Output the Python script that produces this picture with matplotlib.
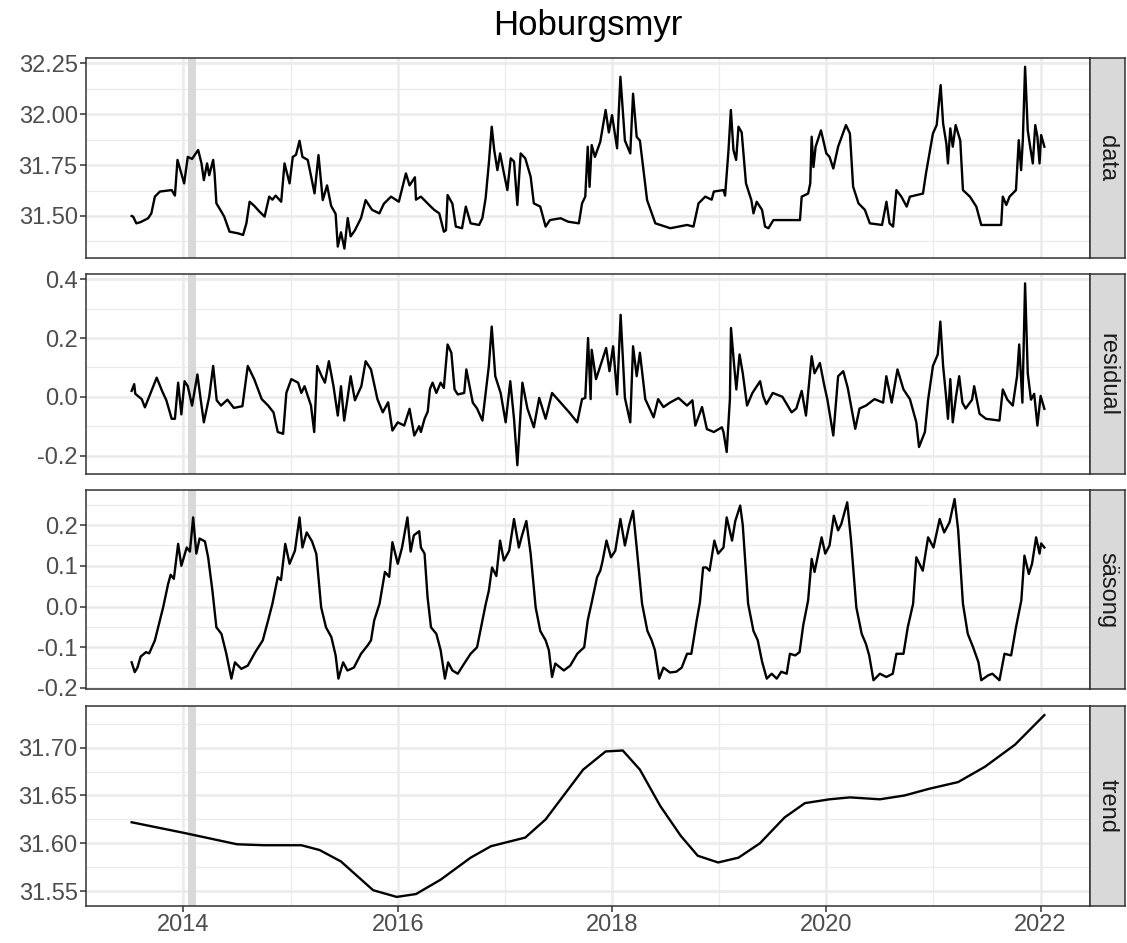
import matplotlib
matplotlib.use("Agg")
import matplotlib.pyplot as plt
import numpy as np

plt.rcParams['font.family'] = ['Liberation Sans', 'DejaVu Sans']

title = "Hoburgsmyr"
panel_labels = ["data", "residual", "säsong", "trend"]
band_start, band_end = 2014.044, 2014.12

data_x = [2013.516, 2013.53, 2013.56, 2013.60, 2013.67, 2013.70, 2013.733, 2013.78, 2013.89, 2013.92,
          2013.944, 2013.98, 2014.006, 2014.04, 2014.08, 2014.137, 2014.168, 2014.19, 2014.22, 2014.24,
          2014.277, 2014.29, 2014.307, 2014.354, 2014.38, 2014.43, 2014.509, 2014.556, 2014.587, 2014.617,
          2014.66, 2014.71, 2014.757, 2014.80, 2014.83, 2014.86, 2014.912, 2014.943, 2014.99, 2015.02,
          2015.05, 2015.083, 2015.11, 2015.16, 2015.223, 2015.26, 2015.30, 2015.34, 2015.378, 2015.42,
          2015.44, 2015.47, 2015.502, 2015.533, 2015.56, 2015.60, 2015.657, 2015.70, 2015.76, 2015.828,
          2015.87, 2015.937, 2016.01, 2016.076, 2016.11, 2016.16, 2016.17, 2016.216, 2016.293, 2016.34,
          2016.387, 2016.43, 2016.45, 2016.465, 2016.51, 2016.542, 2016.60, 2016.635, 2016.68, 2016.759,
          2016.79, 2016.82, 2016.85, 2016.877, 2016.90, 2016.93, 2016.955, 2016.985, 2017.023, 2017.054,
          2017.085, 2017.116, 2017.147, 2017.19, 2017.24, 2017.27, 2017.33, 2017.38, 2017.42, 2017.52,
          2017.59, 2017.69, 2017.72, 2017.75, 2017.773, 2017.79, 2017.81, 2017.84, 2017.89, 2017.94,
          2017.97, 2018.00, 2018.047, 2018.078, 2018.12, 2018.17, 2018.196, 2018.23, 2018.26, 2018.327,
          2018.404, 2018.544, 2018.70, 2018.76, 2018.807, 2018.87, 2018.93, 2018.95, 2019.04, 2019.055,
          2019.087, 2019.109, 2019.133, 2019.158, 2019.18, 2019.21, 2019.25, 2019.30, 2019.32, 2019.35,
          2019.40, 2019.428, 2019.46, 2019.506, 2019.754, 2019.77, 2019.83, 2019.85, 2019.863, 2019.88,
          2019.90, 2019.95, 2020.00, 2020.03, 2020.065, 2020.11, 2020.183, 2020.22, 2020.25, 2020.30,
          2020.36, 2020.406, 2020.52, 2020.561, 2020.59, 2020.623, 2020.654, 2020.70, 2020.75, 2020.78,
          2020.902, 2020.93, 2020.995, 2021.03, 2021.067, 2021.09, 2021.12, 2021.135, 2021.157, 2021.18,
          2021.207, 2021.25, 2021.275, 2021.34, 2021.40, 2021.446, 2021.632, 2021.647, 2021.68, 2021.71,
          2021.77, 2021.796, 2021.818, 2021.834, 2021.855, 2021.88, 2021.90, 2021.927, 2021.95, 2021.97,
          2021.99, 2022.005, 2022.035]
data_y = [31.500, 31.497, 31.464, 31.470, 31.489, 31.513, 31.595, 31.620, 31.627, 31.600,
          31.775, 31.709, 31.660, 31.790, 31.780, 31.824, 31.758, 31.676, 31.758, 31.700,
          31.775, 31.710, 31.562, 31.521, 31.497, 31.423, 31.415, 31.407, 31.464, 31.570,
          31.550, 31.521, 31.497, 31.595, 31.580, 31.600, 31.570, 31.758, 31.660, 31.790,
          31.800, 31.869, 31.790, 31.775, 31.611, 31.799, 31.578, 31.650, 31.550, 31.510,
          31.350, 31.420, 31.340, 31.490, 31.400, 31.430, 31.490, 31.578, 31.530, 31.513,
          31.560, 31.595, 31.570, 31.709, 31.650, 31.690, 31.580, 31.595, 31.554, 31.530,
          31.513, 31.423, 31.430, 31.603, 31.560, 31.448, 31.440, 31.546, 31.464, 31.456,
          31.490, 31.587, 31.758, 31.938, 31.824, 31.725, 31.807, 31.725, 31.627, 31.783,
          31.767, 31.554, 31.807, 31.783, 31.693, 31.562, 31.546, 31.448, 31.480, 31.489,
          31.472, 31.464, 31.562, 31.595, 31.840, 31.643, 31.848, 31.790, 31.864, 32.020,
          31.910, 31.995, 31.832, 32.183, 31.870, 31.807, 32.100, 31.888, 31.870, 31.578,
          31.464, 31.440, 31.456, 31.448, 31.562, 31.595, 31.580, 31.620, 31.627, 31.600,
          31.824, 32.020, 31.824, 31.775, 31.938, 31.910, 31.660, 31.578, 31.513, 31.570,
          31.530, 31.448, 31.440, 31.480, 31.480, 31.595, 31.610, 31.660, 31.889, 31.740,
          31.840, 31.920, 31.807, 31.790, 31.733, 31.840, 31.946, 31.905, 31.644, 31.562,
          31.530, 31.464, 31.456, 31.570, 31.464, 31.448, 31.627, 31.595, 31.546, 31.595,
          31.610, 31.709, 31.905, 31.946, 32.142, 31.954, 31.856, 31.758, 31.930, 31.840,
          31.946, 31.870, 31.627, 31.595, 31.546, 31.456, 31.456, 31.595, 31.554, 31.595,
          31.627, 31.872, 31.725, 31.872, 32.232, 31.920, 31.848, 31.758, 31.946, 31.889,
          31.758, 31.897, 31.840]

resid_x = [2013.516, 2013.54, 2013.55, 2013.61, 2013.64, 2013.69, 2013.75, 2013.80, 2013.84, 2013.89,
           2013.92, 2013.95, 2013.98, 2014.01, 2014.04, 2014.08, 2014.13, 2014.16, 2014.19, 2014.24,
           2014.277, 2014.31, 2014.35, 2014.41, 2014.47, 2014.55, 2014.60, 2014.66, 2014.73, 2014.79,
           2014.84, 2014.88, 2014.93, 2014.96, 2015.006, 2015.07, 2015.10, 2015.13, 2015.19, 2015.22,
           2015.248, 2015.29, 2015.32, 2015.357, 2015.40, 2015.44, 2015.47, 2015.50, 2015.53, 2015.56,
           2015.60, 2015.66, 2015.70, 2015.75, 2015.81, 2015.86, 2015.91, 2015.95, 2016.00, 2016.06,
           2016.11, 2016.154, 2016.20, 2016.216, 2016.25, 2016.28, 2016.30, 2016.325, 2016.36, 2016.40,
           2016.43, 2016.465, 2016.50, 2016.53, 2016.56, 2016.62, 2016.64, 2016.70, 2016.74, 2016.79,
           2016.82, 2016.85, 2016.877, 2016.91, 2016.96, 2017.007, 2017.05, 2017.085, 2017.116, 2017.163,
           2017.21, 2017.27, 2017.32, 2017.38, 2017.44, 2017.52, 2017.60, 2017.675, 2017.72, 2017.75,
           2017.776, 2017.80, 2017.81, 2017.85, 2017.88, 2017.945, 2017.976, 2018.01, 2018.047, 2018.08,
           2018.12, 2018.17, 2018.196, 2018.23, 2018.26, 2018.31, 2018.388, 2018.43, 2018.48, 2018.54,
           2018.62, 2018.70, 2018.75, 2018.777, 2018.84, 2018.885, 2018.95, 2019.025, 2019.04, 2019.07,
           2019.10, 2019.11, 2019.14, 2019.16, 2019.19, 2019.22, 2019.26, 2019.31, 2019.382, 2019.41,
           2019.44, 2019.50, 2019.59, 2019.676, 2019.72, 2019.77, 2019.81, 2019.863, 2019.89, 2019.94,
           2019.98, 2020.01, 2020.065, 2020.11, 2020.158, 2020.20, 2020.27, 2020.31, 2020.37, 2020.45,
           2020.53, 2020.56, 2020.61, 2020.664, 2020.72, 2020.78, 2020.84, 2020.865, 2020.92, 2020.95,
           2020.995, 2021.04, 2021.064, 2021.09, 2021.12, 2021.135, 2021.157, 2021.18, 2021.21, 2021.24,
           2021.27, 2021.30, 2021.36, 2021.38, 2021.43, 2021.49, 2021.616, 2021.647, 2021.69, 2021.74,
           2021.78, 2021.80, 2021.83, 2021.855, 2021.88, 2021.91, 2021.94, 2021.97, 2022.00, 2022.035]
resid_y = [0.020, 0.043, 0.010, -0.008, -0.036, 0.010, 0.065, 0.020, -0.012, -0.075,
           -0.075, 0.048, -0.060, 0.053, 0.036, -0.030, 0.076, -0.008, -0.087, 0.000,
           0.105, -0.012, -0.030, -0.010, -0.038, -0.032, 0.105, 0.060, -0.008, -0.030,
           -0.053, -0.120, -0.126, 0.013, 0.060, 0.048, 0.013, 0.036, -0.030, -0.120,
           0.105, 0.070, 0.048, 0.121, 0.036, -0.064, 0.036, -0.081, -0.008, 0.070,
           -0.012, 0.036, 0.121, 0.093, -0.008, -0.053, -0.019, -0.115, -0.087, -0.098,
           -0.041, -0.132, -0.100, -0.120, -0.075, -0.050, 0.026, 0.048, 0.013, 0.048,
           0.030, 0.178, 0.150, 0.025, 0.008, 0.013, 0.093, -0.020, -0.040, -0.081,
           0.013, 0.105, 0.239, 0.070, 0.013, -0.087, 0.053, -0.075, -0.233, 0.048,
           -0.040, -0.104, -0.004, -0.075, 0.013, -0.020, -0.053, -0.087, -0.008, -0.004,
           0.200, -0.008, 0.160, 0.060, 0.093, 0.166, 0.087, 0.172, 0.008, 0.279,
           -0.004, -0.087, 0.172, 0.070, 0.150, -0.008, -0.070, -0.008, -0.035, -0.020,
           -0.004, -0.030, -0.012, -0.098, -0.035, -0.110, -0.120, -0.104, -0.120, -0.188,
           -0.008, 0.234, 0.105, 0.025, 0.144, 0.080, -0.030, 0.013, 0.053, 0.003,
           -0.025, 0.013, 0.000, -0.053, -0.040, 0.020, -0.064, 0.138, 0.080, 0.115,
           0.040, -0.010, -0.132, 0.070, 0.087, 0.030, -0.109, -0.040, -0.030, -0.008,
           -0.020, 0.070, -0.020, 0.093, 0.025, -0.008, -0.087, -0.171, -0.120, -0.010,
           0.105, 0.144, 0.256, 0.105, -0.008, -0.075, 0.060, -0.087, 0.000, 0.070,
           -0.020, -0.040, -0.010, 0.036, -0.058, -0.075, -0.081, 0.025, -0.010, -0.030,
           0.070, 0.178, -0.020, 0.386, 0.080, -0.010, 0.010, -0.098, 0.003, -0.041]

season_x = [2013.516, 2013.545, 2013.57, 2013.60, 2013.65, 2013.68, 2013.733, 2013.78, 2013.81, 2013.857,
            2013.88, 2013.91, 2013.95, 2013.98, 2014.03, 2014.06, 2014.09, 2014.12, 2014.15, 2014.20,
            2014.23, 2014.27, 2014.307, 2014.354, 2014.40, 2014.447, 2014.48, 2014.54, 2014.60, 2014.67,
            2014.74, 2014.79, 2014.83, 2014.88, 2014.91, 2014.95, 2014.99, 2015.04, 2015.083, 2015.11,
            2015.15, 2015.20, 2015.24, 2015.285, 2015.33, 2015.38, 2015.42, 2015.446, 2015.49, 2015.53,
            2015.59, 2015.657, 2015.72, 2015.75, 2015.78, 2015.83, 2015.88, 2015.92, 2015.95, 2016.00,
            2016.04, 2016.09, 2016.12, 2016.15, 2016.20, 2016.216, 2016.25, 2016.278, 2016.31, 2016.36,
            2016.40, 2016.44, 2016.47, 2016.51, 2016.56, 2016.62, 2016.68, 2016.74, 2016.79, 2016.82,
            2016.85, 2016.88, 2016.92, 2016.955, 2016.99, 2017.04, 2017.085, 2017.13, 2017.16, 2017.20,
            2017.24, 2017.287, 2017.33, 2017.38, 2017.41, 2017.44, 2017.47, 2017.55, 2017.61, 2017.675,
            2017.74, 2017.773, 2017.81, 2017.86, 2017.89, 2017.91, 2017.948, 2017.99, 2018.03, 2018.078,
            2018.12, 2018.16, 2018.196, 2018.23, 2018.28, 2018.33, 2018.37, 2018.40, 2018.44, 2018.48,
            2018.54, 2018.60, 2018.65, 2018.70, 2018.74, 2018.79, 2018.82, 2018.85, 2018.88, 2018.91,
            2018.955, 2018.99, 2019.04, 2019.07, 2019.12, 2019.15, 2019.196, 2019.22, 2019.27, 2019.32,
            2019.36, 2019.40, 2019.444, 2019.49, 2019.537, 2019.58, 2019.63, 2019.66, 2019.71, 2019.75,
            2019.785, 2019.83, 2019.863, 2019.89, 2019.956, 2019.99, 2020.03, 2020.07, 2020.11, 2020.14,
            2020.195, 2020.23, 2020.28, 2020.33, 2020.37, 2020.40, 2020.44, 2020.50, 2020.56, 2020.62,
            2020.654, 2020.72, 2020.76, 2020.81, 2020.84, 2020.90, 2020.95, 2021.00, 2021.058, 2021.10,
            2021.15, 2021.197, 2021.23, 2021.275, 2021.32, 2021.37, 2021.42, 2021.446, 2021.51, 2021.55,
            2021.616, 2021.663, 2021.725, 2021.77, 2021.82, 2021.849, 2021.89, 2021.92, 2021.958, 2021.99,
            2022.005, 2022.035]
season_y = [-0.137, -0.161, -0.150, -0.123, -0.112, -0.115, -0.083, -0.034, -0.002, 0.056,
            0.078, 0.068, 0.154, 0.100, 0.145, 0.135, 0.219, 0.130, 0.167, 0.160,
            0.121, 0.039, -0.051, -0.067, -0.116, -0.177, -0.137, -0.153, -0.145, -0.112,
            -0.083, -0.034, 0.007, 0.072, 0.065, 0.154, 0.105, 0.137, 0.219, 0.145,
            0.182, 0.160, 0.129, -0.002, -0.051, -0.075, -0.120, -0.177, -0.137, -0.157,
            -0.150, -0.116, -0.095, -0.083, -0.034, 0.007, 0.085, 0.073, 0.158, 0.105,
            0.145, 0.219, 0.135, 0.175, 0.185, 0.145, 0.130, 0.023, -0.051, -0.067,
            -0.107, -0.177, -0.137, -0.157, -0.165, -0.140, -0.116, -0.100, -0.034, 0.005,
            0.039, 0.096, 0.075, 0.162, 0.113, 0.137, 0.215, 0.145, 0.175, 0.210,
            0.130, -0.002, -0.060, -0.083, -0.107, -0.173, -0.140, -0.157, -0.145, -0.116,
            -0.100, -0.034, 0.010, 0.072, 0.088, 0.110, 0.162, 0.121, 0.137, 0.215,
            0.150, 0.200, 0.235, 0.145, 0.007, -0.060, -0.083, -0.107, -0.177, -0.150,
            -0.162, -0.160, -0.150, -0.116, -0.116, -0.034, 0.010, 0.096, 0.096, 0.088,
            0.162, 0.130, 0.145, 0.219, 0.162, 0.210, 0.248, 0.200, 0.007, -0.060,
            -0.083, -0.135, -0.177, -0.165, -0.177, -0.160, -0.165, -0.116, -0.120, -0.112,
            -0.045, 0.015, 0.117, 0.085, 0.170, 0.130, 0.150, 0.223, 0.187, 0.203,
            0.256, 0.164, -0.002, -0.067, -0.092, -0.120, -0.181, -0.165, -0.173, -0.165,
            -0.116, -0.116, -0.051, 0.007, 0.121, 0.088, 0.170, 0.145, 0.215, 0.182,
            0.207, 0.264, 0.189, 0.007, -0.067, -0.100, -0.137, -0.181, -0.169, -0.165,
            -0.181, -0.116, -0.120, -0.051, 0.015, 0.125, 0.080, 0.105, 0.170, 0.130,
            0.155, 0.145]

trend_x = [2013.516, 2014.0, 2014.5, 2014.75, 2015.10, 2015.27, 2015.47, 2015.77, 2015.99, 2016.17,
           2016.40, 2016.68, 2016.87, 2017.19, 2017.38, 2017.73, 2017.94, 2018.10, 2018.26, 2018.45,
           2018.64, 2018.80, 2018.99, 2019.18, 2019.38, 2019.61, 2019.80, 2020.03, 2020.22, 2020.50,
           2020.73, 2020.96, 2021.23, 2021.48, 2021.76, 2022.035]
trend_y = [31.622, 31.611, 31.599, 31.598, 31.598, 31.593, 31.581, 31.551, 31.544, 31.547,
           31.562, 31.585, 31.597, 31.606, 31.625, 31.677, 31.696, 31.697, 31.677, 31.639,
           31.608, 31.587, 31.580, 31.585, 31.600, 31.627, 31.642, 31.646, 31.648, 31.646,
           31.650, 31.657, 31.664, 31.680, 31.703, 31.734]

series = [(data_x, data_y), (resid_x, resid_y), (season_x, season_y), (trend_x, trend_y)]
y_ticks = [[31.50, 31.75, 32.00, 32.25], [-0.2, 0.0, 0.2, 0.4],
           [-0.2, -0.1, 0.0, 0.1, 0.2], [31.55, 31.60, 31.65, 31.70]]
y_minor = [[31.375, 31.625, 31.875, 32.125], [-0.1, 0.1, 0.3],
           [-0.15, -0.05, 0.05, 0.15, 0.25], [31.575, 31.625, 31.675, 31.725]]
y_fmt = ["{:.2f}", "{:.1f}", "{:.1f}", "{:.2f}"]
x_ticks = [2014, 2016, 2018, 2020, 2022]
x_minor = [2015, 2017, 2019, 2021]

W, H = 1127, 943
fig = plt.figure(figsize=(W / 100, H / 100), dpi=100)
fig.patch.set_facecolor("white")

panels_px = [(57.7, 257.7), (274.3, 474.3), (490.0, 689.3), (706.0, 906.0)]
left_px, right_px, strip_right_px = 86, 1090, 1125

grid_col = "#EBEBEB"
border_col = "#333333"
all_x = data_x
xr = max(all_x) - min(all_x)
xlim = (min(all_x) - 0.05 * xr, max(all_x) + 0.05 * xr)

for i, ((xs, ys), (top, bot)) in enumerate(zip(series, panels_px)):
    ax = fig.add_axes([left_px / W, 1 - bot / H, (right_px - left_px) / W, (bot - top) / H])
    ax.set_facecolor("white")
    ax.set_xlim(*xlim)
    yr = max(ys) - min(ys)
    ax.set_ylim(min(ys) - 0.05 * yr, max(ys) + 0.05 * yr)
    for v in x_minor:
        ax.axvline(v, color=grid_col, lw=0.9, zorder=0)
    for v in x_ticks:
        ax.axvline(v, color=grid_col, lw=1.8, zorder=0)
    for v in y_minor[i]:
        ax.axhline(v, color=grid_col, lw=0.9, zorder=0)
    for v in y_ticks[i]:
        ax.axhline(v, color=grid_col, lw=1.8, zorder=0)
    ax.axvspan(band_start, band_end, color="#D9D9D9", lw=0, zorder=1)
    ax.plot(xs, ys, color="black", lw=1.7, zorder=3, solid_joinstyle="round")
    ax.set_yticks(y_ticks[i])
    ax.set_yticklabels([y_fmt[i].format(v) for v in y_ticks[i]])
    ax.set_xticks(x_ticks)
    if i == 3:
        ax.set_xticklabels([str(v) for v in x_ticks])
    else:
        ax.set_xticklabels([])
    ax.tick_params(axis="both", direction="out", length=4, width=1.1, color=border_col,
                   labelcolor="#4D4D4D", labelsize=17, pad=2)
    if i != 3:
        ax.tick_params(axis="x", length=0)
    for sp in ax.spines.values():
        sp.set_color(border_col)
        sp.set_linewidth(1.1)
    sax = fig.add_axes([right_px / W, 1 - bot / H, (strip_right_px - right_px) / W, (bot - top) / H])
    sax.set_facecolor("#D9D9D9")
    sax.set_xticks([])
    sax.set_yticks([])
    for sp in sax.spines.values():
        sp.set_color(border_col)
        sp.set_linewidth(1.1)
    sax.text(0.5, 0.5, panel_labels[i], rotation=270, ha="center", va="center",
             fontsize=17, color="#1A1A1A", transform=sax.transAxes)

fig.text((left_px + right_px) / 2 / W, 1 - 26 / H, title, ha="center", va="center",
         fontsize=25, color="black")

fig.savefig("out.png", dpi=100)
